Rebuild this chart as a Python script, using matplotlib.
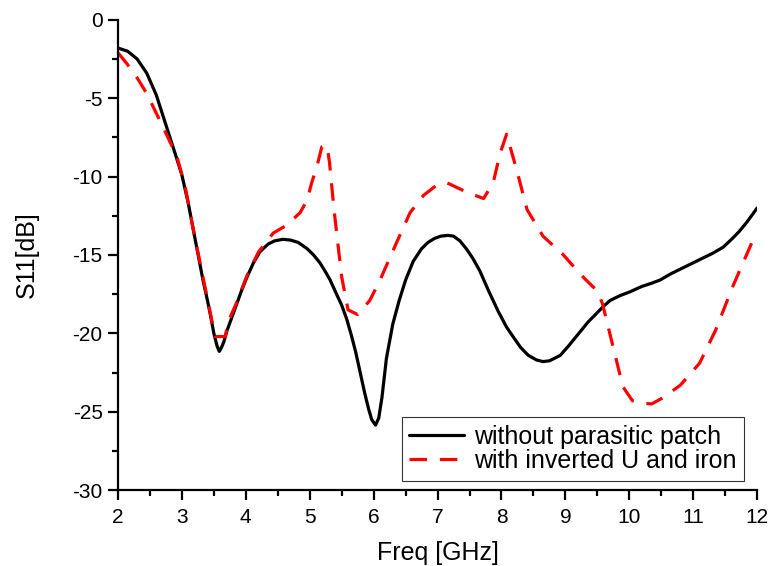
import matplotlib
matplotlib.use("Agg")
import matplotlib.pyplot as plt
from matplotlib.ticker import MultipleLocator

plt.rcParams['font.family'] = ['Liberation Sans', 'DejaVu Sans']
plt.rcParams['axes.unicode_minus'] = False

freq_a = [2.0, 2.15, 2.3, 2.45, 2.6, 2.75, 2.9, 3.0, 3.1, 3.17, 3.25, 3.33, 3.4, 3.45, 3.5,
          3.55, 3.585, 3.62, 3.66, 3.7, 3.78, 3.86, 3.94, 4.02, 4.12, 4.22, 4.35, 4.45, 4.58,
          4.7, 4.82, 4.96, 5.06, 5.16, 5.25, 5.32, 5.42, 5.5, 5.58, 5.65, 5.72, 5.79, 5.86,
          5.92, 5.97, 6.03, 6.08, 6.13, 6.2, 6.25, 6.3, 6.4, 6.5, 6.62, 6.75, 6.85, 6.95,
          7.05, 7.16, 7.25, 7.35, 7.45, 7.55, 7.66, 7.8, 7.95, 8.08, 8.18, 8.3, 8.42, 8.55,
          8.65, 8.75, 8.85, 8.92, 9.05, 9.15, 9.23, 9.35, 9.47, 9.59, 9.7, 9.85, 10.01,
          10.2, 10.35, 10.48, 10.65, 10.8, 11.0, 11.15, 11.3, 11.47, 11.6, 11.72, 11.84,
          11.93, 12.0]
s11_a = [-1.8, -2.0, -2.5, -3.4, -4.8, -6.7, -8.6, -9.9, -11.7, -13.2, -14.9, -16.6, -17.9,
         -18.9, -20.0, -20.8, -21.15, -20.9, -20.5, -19.9, -19.0, -18.1, -17.2, -16.4, -15.5,
         -14.8, -14.3, -14.1, -14.0, -14.05, -14.2, -14.6, -15.0, -15.5, -16.1, -16.6,
         -17.5, -18.2, -19.1, -20.1, -21.2, -22.5, -23.8, -24.8, -25.5, -25.85, -25.4,
         -24.1, -21.6, -20.5, -19.4, -17.9, -16.6, -15.4, -14.6, -14.2, -13.95, -13.8,
         -13.75, -13.8, -14.1, -14.6, -15.2, -16.0, -17.3, -18.6, -19.6, -20.2, -20.9,
         -21.4, -21.7, -21.8, -21.75, -21.55, -21.4, -20.8, -20.3, -19.9, -19.3, -18.8,
         -18.3, -17.9, -17.6, -17.35, -17.0, -16.8, -16.6, -16.2, -15.9, -15.5, -15.2,
         -14.9, -14.5, -14.0, -13.5, -12.9, -12.4, -12.0]

freq_b = [2.0, 2.14, 2.3, 2.45, 2.7, 2.92, 3.05, 3.17, 3.33, 3.44, 3.52, 3.68, 3.72, 3.86,
          4.02, 4.2, 4.43, 4.64, 4.85, 4.96, 5.03, 5.11, 5.19, 5.27, 5.31, 5.38, 5.5, 5.6,
          5.75, 5.94, 6.1, 6.36, 6.57, 6.78, 7.0, 7.15, 7.46, 7.72, 7.87, 7.98, 8.08, 8.24,
          8.4, 8.65, 8.97, 9.1, 9.3, 9.5, 9.58, 9.9, 10.05, 10.2, 10.35, 10.53, 10.8,
          11.1, 11.35, 11.62, 11.94, 12.0]
s11_b = [-2.1, -2.8, -3.7, -4.7, -6.8, -8.7, -10.6, -13.2, -16.4, -18.6, -20.2, -20.2,
         -19.3, -18.0, -16.3, -14.8, -13.6, -13.1, -12.3, -11.5, -10.4, -9.4, -8.1, -8.0,
         -9.1, -12.1, -16.4, -18.5, -18.8, -17.9, -16.6, -14.2, -12.3, -11.2, -10.5, -10.4,
         -11.0, -11.4, -10.4, -8.5, -7.3, -9.6, -12.1, -13.8, -15.0, -15.6, -16.5, -17.3,
         -18.1, -23.4, -24.3, -24.45, -24.5, -24.1, -23.3, -21.9, -19.8, -17.0, -14.0,
         -13.6]

label_a = "without parasitic patch"
label_b = "with inverted U and iron"

fig = plt.figure(figsize=(7.71, 5.66), dpi=100)
ax = fig.add_axes([0.153, 0.134, 0.829, 0.831])

ax.plot(freq_a, s11_a, color='black', lw=2.3, label=label_a,
        solid_joinstyle='round', solid_capstyle='round')
ax.plot(freq_b, s11_b, color='#ff0000', lw=2.3, dashes=(5.5, 4.0), label=label_b)

ax.set_xlim(2, 12)
ax.set_ylim(-30, 0)
ax.xaxis.set_major_locator(MultipleLocator(1))
ax.xaxis.set_minor_locator(MultipleLocator(0.5))
ax.yaxis.set_major_locator(MultipleLocator(5))
ax.yaxis.set_minor_locator(MultipleLocator(2.5))

for side in ['top', 'right']:
    ax.spines[side].set_visible(False)
for side in ['left', 'bottom']:
    ax.spines[side].set_linewidth(1.6)

ax.tick_params(which='major', direction='out', length=7, width=1.6, labelsize=15)
ax.tick_params(axis='x', which='major', pad=6)
ax.tick_params(axis='y', which='major', pad=4)
ax.tick_params(which='minor', direction='out', length=4, width=1.6)

ax.set_xlabel("Freq [GHz]", fontsize=18, labelpad=10)
ax.set_ylabel("S11[dB]", fontsize=18, labelpad=24)

leg = ax.legend(loc='lower right', bbox_to_anchor=(0.98, 0.02), fontsize=18, frameon=True,
                fancybox=False, edgecolor='black', handlelength=2.2, borderpad=0.3,
                labelspacing=0.02, handletextpad=0.4, borderaxespad=0.0)
leg.get_frame().set_linewidth(0.8)

fig.savefig("out.png", dpi=100)
